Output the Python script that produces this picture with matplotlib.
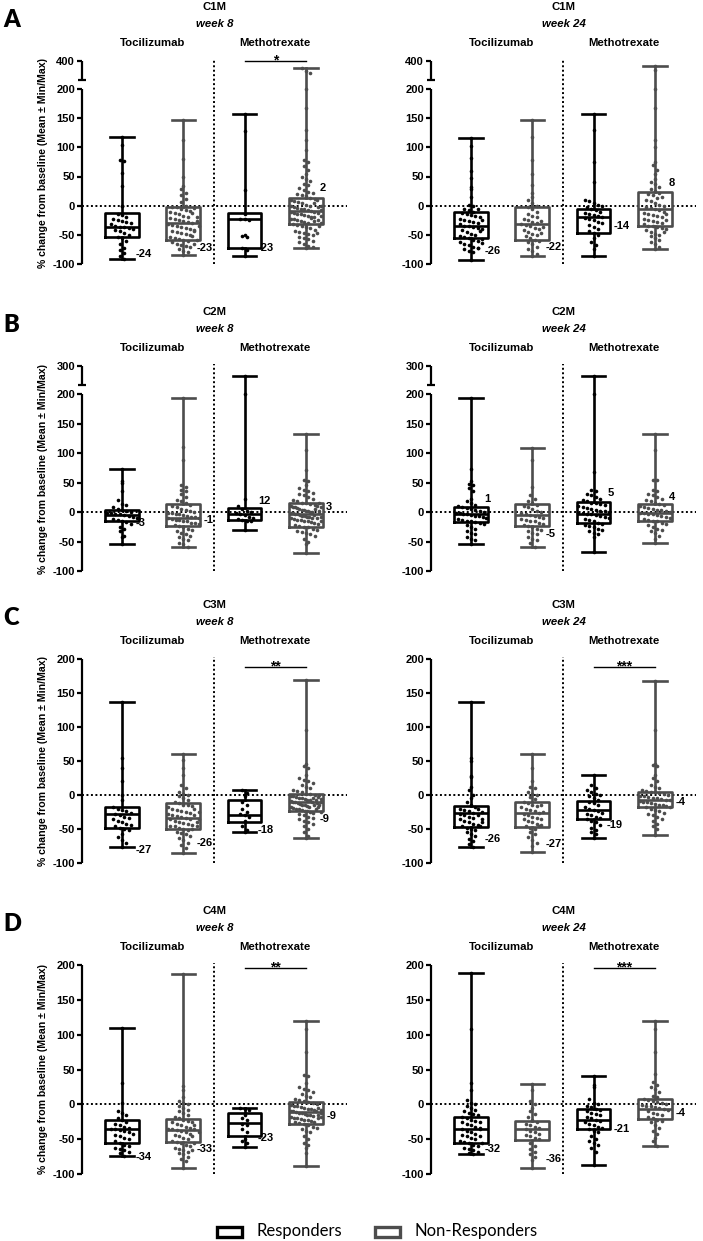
import numpy as np
import matplotlib
matplotlib.use("Agg")
import matplotlib.pyplot as plt
from matplotlib.patches import Rectangle

plt.rcParams['font.family'] = ['Liberation Sans', 'DejaVu Sans']
plt.rcParams['font.weight'] = 'bold'

# ---------------- data ----------------
markers = ["C1M", "C2M", "C3M", "C4M"]
weeks = ["week 8", "week 24"]
letters = ["A", "B", "C", "D"]
groups = ["Tocilizumab", "Methotrexate"]
ylabel = "% change from baseline (Mean \u00b1 Min/Max)"

# box stats per panel: [min, q1, median, q3, max] for Toc R, Toc NR, Mtx R, Mtx NR
c1m_w8_box = [[-92, -54, -36, -13, 117], [-85, -58, -29, -2, 147], [-86, -72, -23, -12, 157], [-73, -31, -9, 14, 363]]
c1m_w24_box = [[-93, -56, -35, -10, 116], [-86, -58, -31, -2, 147], [-86, -46, -20, -6, 157], [-74, -35, -6, 23, 374]]
c2m_w8_box = [[-54, -15, -5, 3, 73], [-60, -23, -10, 13, 194], [-31, -14, -4, 7, 274], [-70, -26, -3, 16, 132]]
c2m_w24_box = [[-54, -17, -3, 9, 194], [-60, -24, -5, 13, 109], [-68, -19, -3, 17, 274], [-52, -15, -1, 14, 132]]
c3m_w8_box = [[-77, -48, -28, -17, 137], [-85, -50, -34, -12, 61], [-54, -40, -30, -7, 7], [-63, -23, -11, 2, 169]]
c3m_w24_box = [[-76, -47, -27, -16, 137], [-84, -47, -27, -11, 61], [-63, -36, -22, -9, 29], [-59, -17, -7, 5, 167]]
c4m_w8_box = [[-74, -55, -35, -22, 110], [-91, -54, -37, -21, 187], [-61, -46, -27, -12, -5], [-88, -28, -11, 4, 120]]
c4m_w24_box = [[-72, -55, -36, -18, 188], [-91, -51, -36, -24, 29], [-87, -36, -22, -6, 41], [-60, -21, -7, 7, 120]]

# printed mean values
c1m_w8_mean = [-24, -23, -23, 2]
c1m_w24_mean = [-26, -22, -14, 8]
c2m_w8_mean = [-3, -1, 12, 3]
c2m_w24_mean = [1, -5, 5, 4]
c3m_w8_mean = [-27, -26, -18, -9]
c3m_w24_mean = [-26, -27, -19, -4]
c4m_w8_mean = [-34, -33, -23, -9]
c4m_w24_mean = [-32, -36, -21, -4]

# significance between Methotrexate responders and non-responders
c1m_sig = ["*", ""]
c2m_sig = ["", ""]
c3m_sig = ["**", "***"]
c4m_sig = ["**", "***"]

# individual patients
c1m_w8_pts = [
    [117, 104, 78, 77, 56, 33, 0, -1, -14, -16, -20, -22, -24, -26, -28, -30, -32, -34, -36, -37, -38, -40, -42,
     -44, -47, -50, -53, -55, -60, -66, -72, -76, -81, -86, -92],
    [147, 112, 80, 50, 33, 28, 22, 18, 12, 6, 0, -2, -3, -5, -7, -9, -11, -13, -15, -17, -19, -21, -23, -25, -26,
     -28, -29, -31, -33, -34, -36, -38, -40, -41, -43, -45, -47, -49, -51, -53, -55, -57, -59, -61, -63, -65, -67,
     -69, -71, -74, -77, -80, -85, -4, -12, -20, -27, -35, -44, -52, -58, -66],
    [157, 128, 27, -14, -22, -23, -25, -50, -52, -54, -73, -76, -86],
    [363, 350, 338, 200, 168, 130, 112, 95, 78, 75, 68, 62, 55, 50, 45, 42, 38, 35, 30, 27, 24, 22, 20, 18, 16,
     14, 12, 10, 8, 6, 4, 2, 0, -1, -2, -4, -5, -6, -8, -9, -10, -11, -12, -14, -15, -16, -18, -19, -20, -22, -23,
     -25, -26, -28, -29, -31, -33, -35, -37, -39, -41, -43, -45, -47, -49, -51, -53, -55, -57, -60, -63, -66, -69,
     -71, -73, 5, -3, -7, -13, -17, -21, -27, -34, -46, 10, 0, -24, -30],
]
c1m_w24_pts = [
    [116, 102, 82, 60, 48, 32, 28, 15, 2, 0, -5, -8, -10, -12, -14, -16, -18, -20, -22, -24, -26, -28, -30, -32,
     -34, -35, -36, -38, -40, -42, -45, -48, -50, -52, -54, -56, -58, -60, -62, -65, -68, -70, -72, -75, -78, -80,
     -93, -6, -25, -44, -57, -64, -73],
    [147, 118, 78, 55, 35, 22, 15, 10, 5, 0, -2, -5, -10, -14, -18, -20, -22, -25, -28, -30, -31, -33, -35, -38,
     -40, -42, -45, -48, -50, -52, -55, -58, -60, -63, -66, -70, -74, -78, -82, -86, -26, -36, -46],
    [157, 130, 75, 40, 10, 8, 5, 2, 0, -3, -5, -8, -10, -12, -14, -16, -18, -20, -21, -23, -25, -28, -30, -33,
     -36, -40, -44, -46, -50, -55, -62, -68, -74, -86],
    [374, 355, 200, 168, 112, 100, 75, 70, 62, 55, 45, 40, 38, 32, 28, 25, 22, 20, 18, 14, 10, 8, 5, 2, 0, -2,
     -4, -6, -8, -10, -12, -14, -16, -18, -20, -22, -24, -26, -28, -30, -32, -34, -35, -36, -38, -40, -42, -45,
     -48, -50, -52, -55, -58, -62, -66, -70, -74, 15, -15, -25, -45],
]
c2m_w8_pts = [
    [73, 52, 50, 35, 20, 14, 12, 8, 5, 3, 2, 0, -1, -2, -3, -4, -5, -6, -8, -10, -12, -13, -15, -17, -20, -25,
     -28, -32, -40, -42, -54],
    [194, 110, 88, 45, 42, 38, 35, 30, 25, 20, 18, 15, 12, 10, 8, 5, 3, 2, 0, -1, -2, -3, -4, -5, -6, -8, -9,
     -10, -11, -12, -13, -14, -15, -16, -18, -19, -20, -22, -24, -26, -28, -30, -32, -35, -38, -40, -42, -45,
     -48, -52, -55, -60],
    [274, 200, 22, 10, 5, 2, 0, -2, -3, -5, -8, -10, -12, -14, -15, -16, -31],
    [132, 105, 72, 55, 52, 45, 40, 38, 35, 32, 30, 28, 25, 22, 20, 18, 16, 15, 14, 12, 10, 9, 8, 6, 5, 4, 3, 2,
     1, 0, -1, -2, -3, -4, -5, -6, -7, -8, -9, -10, -11, -12, -13, -14, -15, -16, -17, -18, -20, -22, -24, -25,
     -26, -28, -30, -32, -34, -36, -38, -40, -45, -50, -55, -70, 0, 5, -5, 10, -10, 15, -15, 2, -2, 8, -8],
]
c2m_w24_pts = [
    [194, 73, 52, 48, 45, 40, 35, 22, 18, 15, 12, 10, 8, 6, 5, 3, 2, 0, -1, -2, -3, -4, -5, -6, -7, -8, -10,
     -12, -14, -15, -16, -17, -18, -20, -22, -25, -28, -32, -35, -38, -42, -45, -48, -54],
    [109, 88, 42, 28, 22, 18, 15, 12, 10, 8, 5, 2, 0, -2, -4, -5, -6, -8, -10, -12, -14, -15, -16, -18, -20,
     -22, -24, -25, -28, -30, -32, -35, -38, -42, -45, -48, -52, -60],
    [274, 200, 68, 38, 35, 30, 28, 25, 22, 20, 18, 16, 15, 14, 12, 10, 8, 6, 5, 4, 2, 1, 0, -1, -2, -3, -4, -5,
     -6, -8, -10, -12, -14, -16, -18, -20, -22, -24, -26, -28, -30, -32, -35, -38, -42, -68],
    [132, 105, 55, 55, 38, 35, 30, 28, 25, 22, 20, 18, 15, 14, 12, 10, 8, 6, 5, 4, 3, 2, 0, -1, -2, -3, -4, -5,
     -6, -8, -10, -12, -14, -15, -16, -18, -20, -22, -25, -28, -30, -33, -36, -40, -45, -52],
]
c3m_w8_pts = [
    [137, 55, 40, 20, 0, -8, -18, -20, -22, -24, -26, -28, -30, -32, -34, -36, -38, -40, -42, -44, -46, -48,
     -50, -52, -58, -62, -66, -70, -77],
    [61, 52, 40, 30, 15, 10, 5, 2, 0, -2, -5, -8, -10, -12, -14, -15, -16, -18, -20, -22, -24, -25, -26, -28,
     -30, -31, -32, -34, -35, -36, -38, -40, -41, -42, -44, -45, -46, -48, -50, -52, -54, -56, -58, -60, -63,
     -66, -70, -74, -78, -85, -20, -30, -40, -50, -35, -25, -45],
    [7, 3, -2, -10, -15, -20, -25, -28, -30, -32, -38, -45, -52, -54],
    [169, 96, 45, 42, 40, 30, 25, 22, 20, 18, 15, 12, 10, 8, 6, 4, 2, 1, 0, -1, -2, -3, -4, -5, -6, -7, -8, -9,
     -10, -11, -12, -13, -14, -15, -16, -17, -18, -19, -20, -21, -22, -23, -24, -25, -26, -28, -30, -32, -34,
     -36, -38, -40, -43, -46, -50, -55, -60, -63, -5, -10, -15, -20, -8, -12, -18, -3, 0, -25, -14, -6, -11],
]
c3m_w24_pts = [
    [137, 55, 50, 28, 26, 12, 8, 0, -5, -10, -15, -17, -20, -22, -24, -26, -28, -30, -32, -34, -36, -38, -40,
     -42, -44, -46, -48, -50, -52, -55, -58, -60, -64, -68, -72, -76, -20, -30, -40, -35, -25, -45],
    [61, 40, 20, 12, 10, 5, 2, 0, -3, -6, -10, -12, -14, -16, -18, -20, -22, -24, -26, -28, -30, -32, -34, -36,
     -38, -40, -42, -44, -46, -48, -50, -54, -58, -62, -66, -70, -75, -84, -15, -25, -35, -45],
    [29, 15, 10, 8, 5, 2, 0, -2, -5, -8, -10, -12, -15, -18, -20, -22, -24, -26, -28, -30, -32, -34, -36, -38,
     -40, -44, -48, -52, -55, -58, -63],
    [167, 96, 46, 44, 42, 30, 25, 20, 15, 12, 10, 8, 6, 5, 4, 3, 2, 0, -1, -2, -3, -4, -5, -6, -7, -8, -9, -10,
     -11, -12, -13, -14, -15, -16, -17, -18, -20, -22, -24, -26, -28, -30, -32, -35, -38, -42, -46, -50, -59],
]
c4m_w8_pts = [
    [110, 30, 2, -10, -12, -15, -20, -22, -25, -28, -30, -32, -34, -35, -36, -37, -38, -40, -42, -44, -46, -48,
     -50, -52, -55, -58, -60, -62, -64, -66, -68, -70, -74],
    [187, 26, 20, 10, 5, 2, 0, -2, -5, -8, -10, -12, -15, -18, -20, -22, -24, -26, -28, -30, -32, -34, -35, -36,
     -37, -38, -40, -42, -44, -46, -48, -50, -52, -54, -56, -58, -60, -62, -64, -66, -68, -70, -72, -75, -78,
     -82, -91, -25, -35, -45, -55, -30, -40, -65],
    [-5, -6, -8, -15, -20, -22, -28, -30, -35, -40, -50, -52, -55, -61],
    [120, 108, 75, 42, 40, 30, 25, 22, 20, 18, 15, 12, 10, 8, 6, 5, 4, 2, 0, -1, -2, -3, -4, -5, -6, -7, -8, -9,
     -10, -11, -12, -13, -14, -15, -16, -17, -18, -19, -20, -21, -22, -23, -24, -25, -26, -27, -28, -30, -32,
     -34, -36, -38, -40, -45, -50, -55, -58, -62, -70, -88, -10, -15, -20, -5, -12, -8, -18],
]
c4m_w24_pts = [
    [188, 108, 30, 20, 6, 2, 0, -2, -5, -8, -10, -12, -14, -16, -18, -20, -22, -24, -26, -28, -30, -32, -34,
     -36, -38, -40, -42, -44, -46, -48, -50, -52, -54, -56, -58, -60, -62, -64, -66, -68, -70, -72, -35, -25,
     -45, -55],
    [29, 20, 5, 0, -5, -10, -14, -18, -22, -25, -28, -30, -32, -34, -36, -38, -40, -42, -44, -46, -48, -50, -55,
     -60, -64, -68, -72, -76, -80, -91],
    [41, 28, 25, 8, 2, 0, -2, -4, -6, -8, -10, -12, -14, -16, -18, -20, -22, -24, -26, -28, -30, -32, -34, -36,
     -38, -40, -45, -50, -52, -55, -58, -62, -68, -87],
    [120, 108, 75, 44, 32, 28, 25, 22, 18, 12, 10, 8, 6, 5, 4, 2, 0, -1, -2, -3, -4, -5, -6, -8, -10, -12, -14,
     -16, -18, -20, -22, -24, -26, -30, -34, -38, -42, -48, -52, -60],
]

# upper segment of the broken axis (None = plain axis)
c1m_break = (300, 400)
c2m_break = (250, 300)

# ---------------- layout (pixels) ----------------
W, H = 703, 1241
ROW_TOP = [61, 366, 659, 965]
ROW_BOT = [264, 571, 863, 1174]
COL_X = [82, 431]
AX_W = 265
XLIM = (0.347, 4.67)
SIG_OFF = [0, 0, 8, 2.5]
# y positions of the mean labels (data units)
LABEL_Y = [
    [[-83, -73, -73, 30], [-78, -70, -35, 38]],
    [[-19, -13, 19, 9], [22, -38, 33, 25]],
    [[-81, -70, -52, -35], [-64, -72, -44, -11]],
    [[-76, -64, -48, -17], [-64, -78, -35, -13]],
]
R_COL = "black"
NR_COL = "#4d4d4d"

rows = [
    (c1m_w8_box, c1m_w24_box, c1m_w8_mean, c1m_w24_mean, c1m_w8_pts, c1m_w24_pts, c1m_sig, c1m_break),
    (c2m_w8_box, c2m_w24_box, c2m_w8_mean, c2m_w24_mean, c2m_w8_pts, c2m_w24_pts, c2m_sig, c2m_break),
    (c3m_w8_box, c3m_w24_box, c3m_w8_mean, c3m_w24_mean, c3m_w8_pts, c3m_w24_pts, c3m_sig, None),
    (c4m_w8_box, c4m_w24_box, c4m_w8_mean, c4m_w24_mean, c4m_w8_pts, c4m_w24_pts, c4m_sig, None),
]


def fx(x):
    return x / W


def fy(y):
    return 1 - y / H


def make_break(lo, hi, gap, top):
    k = top / (hi - lo)

    def fwd(v):
        v = np.asarray(v, dtype=float)
        return np.where(v <= 200, v,
                        np.where(v < lo, 200 + (v - 200) * gap / (lo - 200), 200 + gap + (v - lo) * k))

    def inv(u):
        u = np.asarray(u, dtype=float)
        return np.where(u <= 200, u,
                        np.where(u < 200 + gap, 200 + (u - 200) * (lo - 200) / gap, lo + (u - 200 - gap) / k))
    return fwd, inv


def swarm(vals, center, to_px, bin_px=6.0, dx=0.072, maxw=0.5):
    vals = np.asarray(vals, dtype=float)
    bins = np.floor(to_px(vals) / bin_px)
    xs = np.empty_like(vals)
    for b in np.unique(bins):
        idx = np.where(bins == b)[0]
        n = len(idx)
        step = dx if n < 2 else min(dx, maxw / (n - 1))
        xs[idx] = center + (np.arange(n) - (n - 1) / 2) * step
    return xs


fig = plt.figure(figsize=(W / 100, H / 100), dpi=100)
dotted = (0, (1, 1.3))

for r, (box8, box24, mean8, mean24, pts8, pts24, sig, brk) in enumerate(rows):
    top, bot = ROW_TOP[r], ROW_BOT[r]
    h = bot - top
    for c, (box, means, pts) in enumerate([(box8, mean8, pts8), (box24, mean24, pts24)]):
        ax = fig.add_axes([fx(COL_X[c]), fy(bot), AX_W / W, h / H])
        for s in ax.spines.values():
            s.set_visible(False)
        ytr = ax.get_yaxis_transform()
        if brk:
            lo, hi = brk
            upp = 300 / (h - 28)
            fwd, inv = make_break(lo, hi, 9 * upp, 19 * upp)
            ax.set_yscale('function', functions=(fwd, inv))
            ax.set_ylim(-100, hi)
            ticks = [-100, -50, 0, 50, 100, 150, 200, hi]
            ax.plot([0, 0], [lo, hi], transform=ytr, color='black', lw=1.6, clip_on=False,
                    solid_capstyle='butt')
            ax.plot([0], [lo], marker='_', ms=6, mew=1.6, color='black', transform=ytr, clip_on=False)
        else:
            upp = 300 / h
            fwd = lambda v: np.asarray(v, dtype=float)
            ax.set_ylim(-100, 200)
            ticks = [-100, -50, 0, 50, 100, 150, 200]
        ax.plot([0, 0], [-100, 200], transform=ytr, color='black', lw=1.6, clip_on=False,
                solid_capstyle='butt')
        ax.set_xlim(*XLIM)
        ax.set_xticks([])
        ax.set_yticks(ticks)
        ax.set_yticklabels([str(t) for t in ticks])
        ax.tick_params(axis='y', direction='out', length=3.5, width=1.6, labelsize=8, pad=1.5)

        # reference lines
        ax.axhline(0, color='black', lw=1.4, ls=dotted, zorder=1)
        ax.axvline(2.5, ymin=0, ymax=1.01, color='black', lw=1.4, ls=dotted, zorder=1, clip_on=False)

        # boxes
        stats = [dict(whislo=b[0], q1=b[1], med=b[2], q3=b[3], whishi=b[4], fliers=[]) for b in box]
        for idxs, col in (([0, 2], R_COL), ([1, 3], NR_COL)):
            lp = dict(color=col, lw=1.9)
            ax.bxp([stats[i] for i in idxs], positions=[i + 1 for i in idxs], widths=0.55, capwidths=0.38,
                   showfliers=False, boxprops=lp, whiskerprops=lp, capprops=lp, medianprops=lp,
                   manage_ticks=False, zorder=2)

        # dots
        to_px = lambda v: fwd(v) / upp
        for i, vals in enumerate(pts):
            col = R_COL if i % 2 == 0 else NR_COL
            xs = swarm(vals, i + 1, to_px)
            ax.plot(xs, vals, 'o', ms=2.6, mew=0, color=col, zorder=3)

        # mean labels
        for i, m in enumerate(means):
            ly = LABEL_Y[r][c][i]
            inside = box[i][1] <= ly <= box[i][3]
            ax.text(i + 1 + (0.33 if inside else 0.22), ly, str(m), fontsize=8, fontweight='bold',
                    ha='left', va='center', zorder=4)

        # significance bar
        if sig[c]:
            yl = 1 - SIG_OFF[r] / h
            xtr = ax.get_xaxis_transform()
            ax.plot([3, 4], [yl, yl], color='black', lw=1.0, transform=xtr, clip_on=False)
            ax.text(3.5, yl - 3.5 / h, sig[c], fontsize=10, ha='center', va='baseline',
                    transform=xtr, fontweight='bold')

        # titles
        ppu = AX_W / (XLIM[1] - XLIM[0])
        cx = COL_X[c] + AX_W / 2
        fig.text(fx(cx), fy(top - 54), markers[r], fontsize=8.2, ha='center', va='center', fontweight='bold')
        fig.text(fx(cx), fy(top - 37), weeks[c], fontsize=8.2, ha='center', va='center', fontweight='bold',
                 fontstyle='italic')
        for g, gx in zip(groups, [1.5, 3.5]):
            fig.text(fx(COL_X[c] + (gx - XLIM[0]) * ppu), fy(top - 18), g, fontsize=8.2, ha='center',
                     va='center', fontweight='bold')

    fig.text(fx(43), fy((top + bot) / 2), ylabel, rotation=90, fontsize=7.6, ha='center', va='center',
             fontweight='bold')
    fig.text(fx(3), fy(top - 41), letters[r], fontsize=17, ha='left', va='center', fontweight='heavy',
             family=['Lato', 'DejaVu Sans'])

# legend
for x0, col, lab in ((217, R_COL, "Responders"), (375, NR_COL, "Non-Responders")):
    fig.patches.append(Rectangle((fx(x0), fy(1237)), 25 / W, 10 / H, fill=False, lw=2.4, edgecolor=col,
                                 transform=fig.transFigure))
    fig.text(fx(x0 + 39), fy(1231), lab, fontsize=12, ha='left', va='center', fontweight='normal',
             family=['Lato', 'DejaVu Sans'])

fig.savefig("out.png", dpi=100)
